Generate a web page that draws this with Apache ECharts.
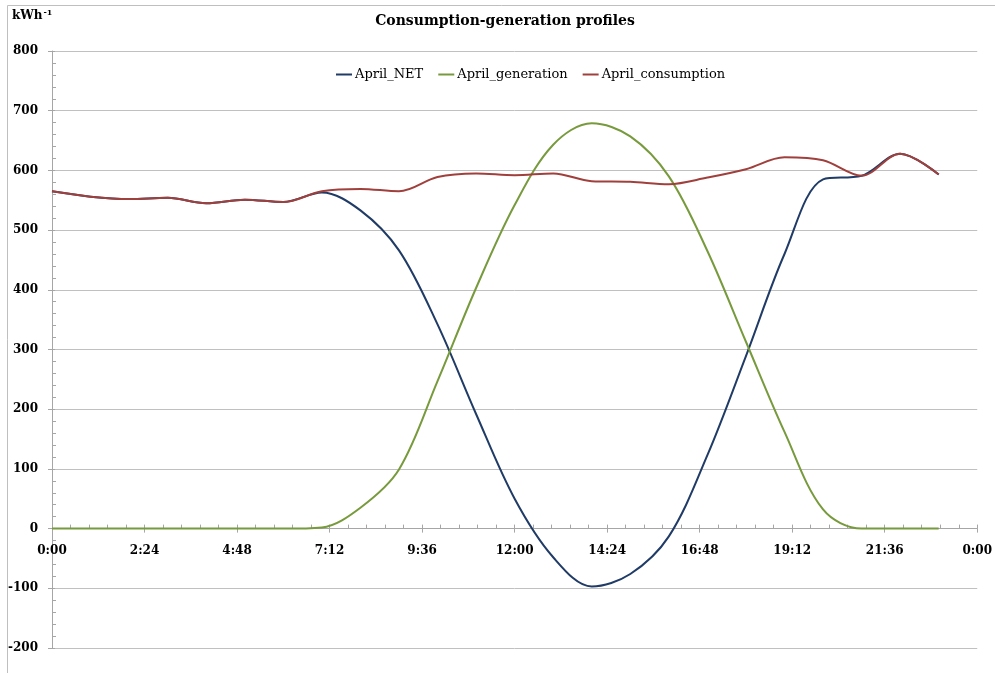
<!DOCTYPE html>
<html>
<head>
<meta charset="utf-8">
<script src="https://cdn.jsdelivr.net/npm/echarts@6/dist/echarts.min.js"></script>
<style>
  html, body { margin: 0; padding: 0; background: #ffffff; }
  #chart { width: 995px; height: 673px; }
</style>
</head>
<body>
<div id="chart"></div>
<script>
// Hourly April profiles (kWh per hour)
const times = ['0:00','1:00','2:00','3:00','4:00','5:00','6:00','7:00','8:00','9:00','10:00','11:00',
               '12:00','13:00','14:00','15:00','16:00','17:00','18:00','19:00','20:00','21:00','22:00','23:00'];
const aprilNet = [565, 556, 552, 554, 545, 551, 547, 563, 533, 466, 342, 192,
                  50, -48, -97, -76, -13, 123, 289, 460, 585, 591, 628, 593];
const aprilGeneration = [0, 0, 0, 0, 0, 0, 0, 2, 35, 99, 247, 403,
                         542, 643, 679, 657, 590, 465, 313, 162, 32, 0, 0, 0];
const aprilConsumption = [565, 556, 552, 554, 545, 551, 547, 565, 569, 565, 589, 595,
                          592, 595, 582, 581, 577, 588, 602, 622, 617, 591, 628, 593];
const seriesNames = ['April_NET', 'April_generation', 'April_consumption'];

const toMinutes = t => { const [h, m] = t.split(':').map(Number); return h * 60 + m; };
const pairs = vals => times.map((t, i) => [toMinutes(t), vals[i]]);
const fmtTime = v => {
  const m = Math.round(v) % 1440;
  return Math.floor(m / 60) + ':' + String(m % 60).padStart(2, '0');
};

const serif = 'DejaVu Serif';
const axisGray = '#A6A6A6';
const X_MIN = 0, X_MAX = 1440, X_STEP = 144;
const Y_MIN = -200, Y_MAX = 800, Y_STEP = 100;
const GRID = { left: 52, right: 16, top: 51, bottom: 25 };
const plotHeight = 673 - GRID.top - GRID.bottom;
// lift the time axis from the plot bottom up to the zero line
const zeroLift = plotHeight * (0 - Y_MIN) / (Y_MAX - Y_MIN);

const chart = echarts.init(document.getElementById('chart'), null, { renderer: 'canvas' });

const lineSeries = (name, vals, color) => ({
  name, type: 'line', data: pairs(vals), smooth: 0.34, showSymbol: false, symbol: 'none',
  lineStyle: { color, width: 2 }, itemStyle: { color }, emphasis: { disabled: true }
});

chart.setOption({
  animation: false,
  backgroundColor: '#ffffff',
  title: {
    text: 'Consumption-generation profiles',
    left: 500, top: 9, textAlign: 'center',
    textStyle: { fontFamily: serif, fontWeight: 'bold', fontSize: 14, color: '#000' }
  },
  legend: {
    left: 331, top: 63,
    itemWidth: 16, itemHeight: 2, itemGap: 15,
    icon: 'rect',
    data: seriesNames,
    textStyle: { fontFamily: serif, fontSize: 13, color: '#000', padding: [0, 0, 0, -2] }
  },
  graphic: [
    { type: 'rect', silent: true, z: -1,
      shape: { x: 7.5, y: 5.5, width: 1000, height: 700 },
      style: { fill: 'none', stroke: '#BFBFBF', lineWidth: 1 } },
    { type: 'text', left: 12, top: 9,
      style: {
        text: 'kWh{s|-1}',
        font: 'bold 12px "DejaVu Serif"', fill: '#000',
        rich: { s: { fontSize: 8, fontWeight: 'bold', fontFamily: serif, verticalAlign: 'top', padding: [0, 0, 6, 1] } }
      } }
  ],
  grid: { left: GRID.left, right: GRID.right, top: GRID.top, bottom: GRID.bottom, containLabel: false },
  xAxis: [
    {
      // time axis: line, labels and inner minor ticks
      type: 'value', min: X_MIN, max: X_MAX, interval: X_STEP,
      position: 'bottom', offset: -zeroLift,
      axisLine: { onZero: false, lineStyle: { color: axisGray, width: 1 } },
      axisTick: { show: true, inside: true, length: 4, lineStyle: { color: axisGray } },
      minorTick: { show: true, splitNumber: 5, length: 4, lineStyle: { color: axisGray } },
      splitLine: { show: false },
      axisLabel: {
        formatter: fmtTime, margin: 16, showMaxLabel: true, showMinLabel: true,
        fontFamily: serif, fontWeight: 'bold', fontSize: 12, color: '#000'
      }
    },
    {
      // outer half of the major ticks
      type: 'value', min: X_MIN, max: X_MAX, interval: X_STEP,
      position: 'bottom', offset: -zeroLift,
      axisLine: { show: false, onZero: false },
      axisTick: { show: true, inside: false, length: 4, lineStyle: { color: axisGray } },
      axisLabel: { show: false }, splitLine: { show: false }
    }
  ],
  yAxis: [
    {
      type: 'value', min: Y_MIN, max: Y_MAX, interval: Y_STEP,
      axisLine: { show: true, lineStyle: { color: axisGray, width: 1 } },
      axisTick: { show: true, inside: true, length: 3, lineStyle: { color: axisGray } },
      minorTick: { show: true, splitNumber: 5, length: 4, lineStyle: { color: axisGray } },
      splitLine: { show: true, lineStyle: { color: '#C0C0C0', width: 1 } },
      axisLabel: {
        margin: 14, fontFamily: serif, fontWeight: 'bold', fontSize: 12, color: '#000'
      }
    },
    {
      // outer major ticks
      type: 'value', min: Y_MIN, max: Y_MAX, interval: Y_STEP, position: 'left',
      axisLine: { show: false },
      axisTick: { show: true, inside: false, length: 4, lineStyle: { color: axisGray } },
      axisLabel: { show: false }, splitLine: { show: false }
    }
  ],
  series: [
    lineSeries(seriesNames[0], aprilNet, '#1F3B66'),
    lineSeries(seriesNames[1], aprilGeneration, '#779A3C'),
    lineSeries(seriesNames[2], aprilConsumption, '#A0403D')
  ]
});
</script>
</body>
</html>
